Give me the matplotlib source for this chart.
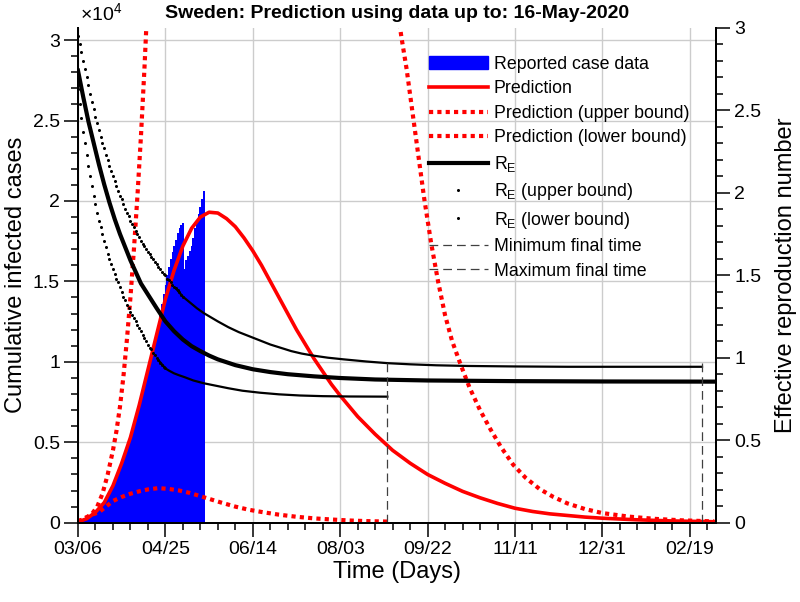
import matplotlib
matplotlib.use("Agg")
import matplotlib.pyplot as plt
from matplotlib.ticker import MultipleLocator, FormatStrFormatter
from matplotlib.lines import Line2D
from matplotlib.patches import Patch
import numpy as np

plt.rcParams['font.family'] = ['Liberation Sans', 'DejaVu Sans']
plt.rcParams['mathtext.fontset'] = 'custom'
plt.rcParams['mathtext.rm'] = 'Liberation Sans'

# days since 03/06/2020
tick_days = [0, 50, 100, 150, 200, 250, 300, 350]
tick_labels = ['03/06', '04/25', '06/14', '08/03', '09/22', '11/11', '12/31', '02/19']

# reported cumulative infected cases (x 1e4), one bar per day, days 0..72
case_data = [0.005, 0.008, 0.012, 0.016, 0.02, 0.025, 0.03, 0.037, 0.045, 0.055,
             0.065, 0.075, 0.085, 0.095, 0.11, 0.125, 0.14, 0.16, 0.18, 0.20,
             0.23, 0.25, 0.28, 0.31, 0.34, 0.37, 0.40, 0.43, 0.46, 0.49,
             0.52, 0.56, 0.60, 0.64, 0.68, 0.72, 0.76, 0.81, 0.86, 0.90,
             0.95, 1.00, 1.05, 1.09, 1.13, 1.18, 1.24, 1.30, 1.36, 1.42,
             1.48, 1.54, 1.59, 1.64, 1.68, 1.72, 1.76, 1.80, 1.83, 1.85,
             1.86, 1.58, 1.63, 1.66, 1.69, 1.72, 1.77, 1.83, 1.88, 1.92,
             1.96, 2.01, 2.06]

# prediction (x 1e4)
pred_days = [0, 5, 10, 15, 20, 25, 30, 35, 40, 45, 50, 55, 60, 65, 70, 75, 80, 85,
             90, 95, 100, 105, 110, 115, 120, 125, 130, 135, 140, 145, 150, 160,
             170, 180, 190, 200, 210, 220, 230, 240, 250, 260, 270, 280, 290, 300,
             320, 340, 365]
pred_vals = [0.005, 0.025, 0.065, 0.125, 0.23, 0.37, 0.53, 0.73, 0.95, 1.17, 1.39,
             1.57, 1.72, 1.83, 1.90, 1.93, 1.925, 1.89, 1.84, 1.77, 1.69, 1.60,
             1.50, 1.40, 1.30, 1.20, 1.11, 1.02, 0.94, 0.86, 0.79, 0.66, 0.55,
             0.45, 0.37, 0.30, 0.245, 0.195, 0.155, 0.12, 0.09, 0.07, 0.055,
             0.045, 0.035, 0.028, 0.018, 0.011, 0.006]

# prediction upper bound (x 1e4), its peak goes far off the chart
pred_up_days = [0, 4, 8, 11, 14, 17, 20, 22, 24, 26, 28, 30, 32, 34, 36, 38, 40,
                43, 50, 60, 80, 100, 120, 140, 160, 170, 178, 182, 185, 188, 191,
                194, 198, 202, 206, 210, 214, 219, 224, 230, 236, 242, 249, 256,
                264, 272, 280, 290, 300, 315, 330, 345, 364]
pred_up_vals = [0.01, 0.025, 0.055, 0.10, 0.18, 0.30, 0.45, 0.57, 0.72, 0.91, 1.14,
                1.40, 1.70, 2.03, 2.40, 2.82, 3.30, 4.1, 6.0, 8.5, 10.5, 11.5,
                10.5, 8.5, 6.0, 4.6, 3.7, 3.25, 3.02, 2.82, 2.58, 2.34, 2.02, 1.74,
                1.50, 1.29, 1.13, 0.98, 0.84, 0.70, 0.58, 0.47, 0.36, 0.28, 0.21,
                0.16, 0.12, 0.085, 0.06, 0.038, 0.024, 0.015, 0.008]

# prediction lower bound (x 1e4)
pred_lo_days = [0, 4, 8, 12, 16, 20, 25, 30, 35, 40, 46, 52, 58, 64, 70, 76, 82,
                90, 98, 106, 115, 125, 135, 145, 155, 165, 177]
pred_lo_vals = [0.005, 0.03, 0.05, 0.065, 0.10, 0.135, 0.16, 0.18, 0.195, 0.207,
                0.215, 0.21, 0.20, 0.185, 0.165, 0.145, 0.125, 0.10, 0.08, 0.065,
                0.05, 0.037, 0.027, 0.02, 0.014, 0.01, 0.007]

# effective reproduction number
re_days = [0, 3, 6, 9, 12, 15, 18, 21, 24, 27, 30, 33, 36, 39, 42, 45, 50, 55, 60,
           65, 70, 75, 80, 90, 100, 110, 120, 135, 150, 170, 200, 250, 300, 365]
re_vals = [2.74, 2.58, 2.43, 2.30, 2.17, 2.05, 1.94, 1.84, 1.75, 1.67, 1.59, 1.52,
           1.45, 1.40, 1.35, 1.30, 1.22, 1.16, 1.11, 1.07, 1.04, 1.013, 0.99,
           0.955, 0.93, 0.913, 0.90, 0.887, 0.877, 0.868, 0.862, 0.858, 0.856, 0.855]

# R_E upper bound, daily points days 0..60, then the flat tail
re_up_daily = [2.95, 2.90, 2.85, 2.80, 2.75, 2.70, 2.65, 2.60, 2.55, 2.51,
               2.46, 2.42, 2.38, 2.34, 2.30, 2.27, 2.23, 2.20, 2.16, 2.13,
               2.10, 2.07, 2.04, 2.01, 1.98, 1.96, 1.93, 1.90, 1.88, 1.86,
               1.83, 1.81, 1.79, 1.77, 1.75, 1.73, 1.71, 1.69, 1.68, 1.66,
               1.64, 1.63, 1.61, 1.60, 1.58, 1.57, 1.55, 1.54, 1.52, 1.51,
               1.50, 1.48, 1.47, 1.46, 1.44, 1.43, 1.42, 1.41, 1.40, 1.38, 1.37]
re_up_tail_days = [56, 60, 64, 68, 72, 76, 80, 86, 92, 98, 104, 110, 116, 122, 128,
                   135, 143, 152, 165, 177, 190, 205, 223, 250, 280, 357]
re_up_tail_vals = [1.42, 1.37, 1.335, 1.30, 1.27, 1.245, 1.22, 1.185, 1.155, 1.13,
                   1.105, 1.08, 1.06, 1.04, 1.025, 1.012, 1.0, 0.99, 0.977, 0.967,
                   0.96, 0.954, 0.95, 0.947, 0.945, 0.945]

# R_E lower bound, daily points days 0..50, then the flat tail
re_lo_daily = [2.63, 2.54, 2.45, 2.37, 2.30, 2.23, 2.16, 2.10, 2.04, 1.98,
               1.93, 1.88, 1.83, 1.79, 1.75, 1.71, 1.67, 1.63, 1.60, 1.57,
               1.54, 1.51, 1.48, 1.46, 1.43, 1.40, 1.37, 1.35, 1.32, 1.30,
               1.28, 1.26, 1.24, 1.22, 1.20, 1.18, 1.16, 1.14, 1.12, 1.10,
               1.08, 1.06, 1.05, 1.03, 1.015, 1.00, 0.985, 0.97, 0.958, 0.946, 0.935]
re_lo_tail_days = [46, 50, 52, 55, 58, 61, 66, 72, 79, 86, 94, 104, 115, 127, 140,
                   155, 177]
re_lo_tail_vals = [0.985, 0.935, 0.922, 0.905, 0.893, 0.882, 0.862, 0.845, 0.83,
                   0.815, 0.80, 0.788, 0.778, 0.771, 0.767, 0.765, 0.764]

min_final_day = 177
max_final_day = 357

fig = plt.figure(figsize=(8, 6.02), dpi=100)
ax = fig.add_axes([0.0975, 0.1317, 0.7975, 0.8223])
ax2 = ax.twinx()

# left axis: cases
ax.bar(np.arange(len(case_data)), case_data, width=1.0, color='#0000FF', linewidth=0, zorder=2)
ax.plot(pred_days, pred_vals, color='#FF0000', lw=2.6, zorder=3)
ax.plot(pred_up_days, pred_up_vals, color='#FF0000', lw=3, linestyle=(0, (1, 1)), zorder=3)
ax.plot(pred_lo_days, pred_lo_vals, color='#FF0000', lw=3, linestyle=(0, (1, 1)), zorder=3)

# right axis: R_E
ax2.plot(re_days, re_vals, color='black', lw=3)
ax2.plot(np.arange(len(re_up_daily)), re_up_daily, 'o', color='black', ms=2.2, mew=0)
ax2.plot(re_up_tail_days, re_up_tail_vals, color='black', lw=1.6)
ax2.plot(np.arange(len(re_lo_daily)), re_lo_daily, 'o', color='black', ms=2.2, mew=0)
ax2.plot(re_lo_tail_days, re_lo_tail_vals, color='black', lw=1.6)
for d in [min_final_day, max_final_day]:
    ax2.plot([d, d], [0, 1], color='0.25', lw=0.9, dashes=(7, 4))

ax.set_xlim(0, 365)
ax.set_ylim(0, 3.077)
ax2.set_ylim(0, 3)

ax.set_xticks(tick_days)
ax.set_xticklabels(tick_labels)
ax.xaxis.set_minor_locator(MultipleLocator(10))
ax.yaxis.set_major_locator(MultipleLocator(0.5))
ax.yaxis.set_minor_locator(MultipleLocator(0.1))
ax.yaxis.set_major_formatter(FormatStrFormatter('%g'))
ax2.yaxis.set_major_locator(MultipleLocator(0.5))
ax2.yaxis.set_minor_locator(MultipleLocator(0.1))
ax2.yaxis.set_major_formatter(FormatStrFormatter('%g'))

ax.grid(True, which='major', color='#cccccc', lw=1.0, zorder=0)
ax.set_axisbelow(True)

for a in [ax, ax2]:
    a.spines['top'].set_visible(False)
    for s in a.spines.values():
        s.set_linewidth(1.4)
    a.tick_params(which='major', direction='out', length=10, width=1.1, labelsize=14, pad=3)
    a.tick_params(which='minor', direction='out', length=5, width=1.1)

ax.set_ylabel('Cumulative infected cases', fontsize=17, labelpad=4)
ax2.set_ylabel('Effective reproduction number', fontsize=17, labelpad=10)
ax.set_xlabel('Time (Days)', fontsize=17, labelpad=2)
ax.set_title('Sweden: Prediction using data up to: 16-May-2020', fontsize=14,
             fontweight='bold', pad=7)
ax.text(0.003, 1.008, r'$\times\mathregular{10^4}$', transform=ax.transAxes, fontsize=14,
        ha='left', va='bottom')

handles = [
    Patch(facecolor='#0000FF', edgecolor='#0000FF'),
    Line2D([], [], color='#FF0000', lw=2.6),
    Line2D([], [], color='#FF0000', lw=3, linestyle=(0, (1, 1))),
    Line2D([], [], color='#FF0000', lw=3, linestyle=(0, (1, 1))),
    Line2D([], [], color='black', lw=3),
    Line2D([], [], color='black', marker='o', ms=2.2, mew=0, linestyle='none'),
    Line2D([], [], color='black', marker='o', ms=2.2, mew=0, linestyle='none'),
    Line2D([], [], color='0.25', lw=0.9, dashes=(7, 4)),
    Line2D([], [], color='0.25', lw=0.9, dashes=(7, 4)),
]
labels = ['Reported case data', 'Prediction', 'Prediction (upper bound)',
          'Prediction (lower bound)', r'$\mathregular{R_E}$',
          r'$\mathregular{R_E}$ (upper bound)', r'$\mathregular{R_E}$ (lower bound)',
          'Minimum final time', 'Maximum final time']
ax2.legend(handles, labels, loc='upper left', bbox_to_anchor=(0.55, 0.943),
           frameon=False, fontsize=12.8, handlelength=3.3, handletextpad=0.35,
           labelspacing=0.42, borderpad=0, borderaxespad=0, numpoints=1)

fig.savefig('out.png', dpi=100)
